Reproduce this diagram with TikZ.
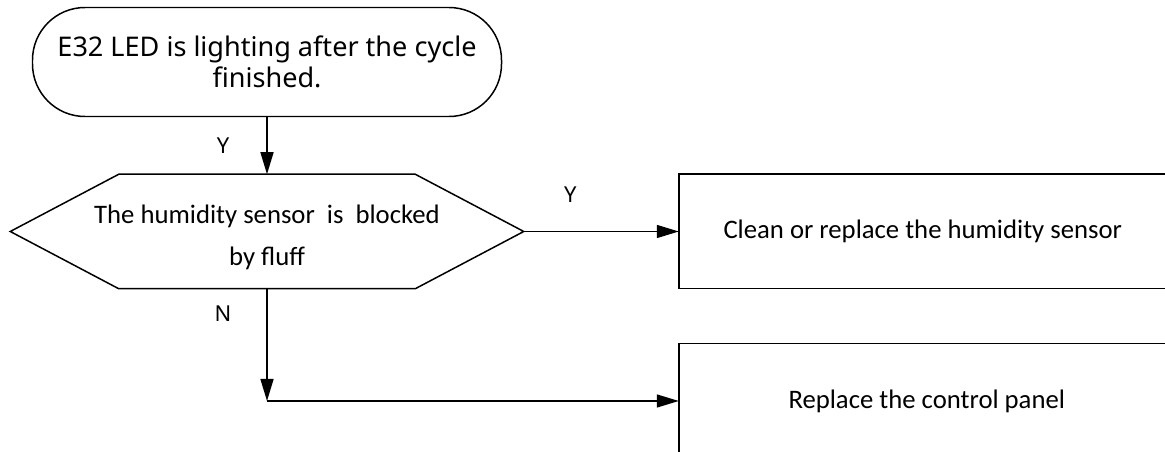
\documentclass[tikz,border=0pt]{standalone}
\usepackage{fontspec}
\setmainfont{Carlito}
\newfontfamily\labelfont{Noto Sans}
\usetikzlibrary{positioning}
\usetikzlibrary{calc}
\usetikzlibrary{arrows.meta}

\begin{document}
\begin{tikzpicture}[
    line width=0.85pt,
    term/.style={draw, rounded corners=1.05cm, minimum width=9.38cm, minimum height=2.18cm, align=center, font=\labelfont\fontsize{15.4}{17.7}\selectfont},
    cond/.style={minimum width=5.9cm, minimum height=2.26cm, inner sep=0pt},
    condtext/.style={align=center, font=\fontsize{15.2}{24}\selectfont},
    act/.style={minimum height=2.26cm, align=flush left, font=\fontsize{15.2}{18}\selectfont},
    arr/.style={-{Triangle[length=0.44cm, width=0.26cm]}},
    yn/.style={font=\labelfont\fontsize{12.5}{15}\selectfont}
]
    \useasboundingbox (0,0) rectangle (23.3,-9.04);

    \node[term] (start) at (5.34,-1.24) {E32 LED is lighting after the cycle\\finished.};

    % check
    \node[cond, below=1.14cm of start, label={[condtext, yshift=-0.12cm]center:The humidity sensor\ \ is\ \ blocked\\by fluff}] (check) {};
    \coordinate (check-l) at ($(check.west)+(-2.17,0)$);
    \coordinate (check-r) at ($(check.east)+(2.17,0)$);
    \draw (check.north west) -- (check.north east) -- (check-r) -- (check.south east)
        -- (check.south west) -- (check-l) -- cycle;

    % actions (cut off by the right edge)
    \node[act, right=3.1cm of check-r, inner xsep=0.88cm, text width=11cm] (clean) {Clean or replace the humidity sensor};
    \node[act, below=1.1cm of clean.south west, anchor=north west, inner xsep=2.18cm, text width=9cm] (panel) {Replace the control panel};
    \draw (clean.north east) -- (clean.north west) -- (clean.south west) -- (clean.south east);
    \draw (panel.north east) -- (panel.north west) -- (panel.south west);
    \coordinate (turn) at (check.south |- panel.west);

    \draw[arr] (start) -- node[yn, midway, left=0.62cm] (y-start) {Y} (check);
    \draw[arr] (check-r) -- node[yn, pos=0.3, above=0.45cm] (y-check) {Y} (clean);
    \draw[arr] (check) -- node[yn, pos=0.22, left=0.58cm] (n-check) {N} (turn);
    \draw[arr] (turn) -- (panel);

\end{tikzpicture}
\end{document}
